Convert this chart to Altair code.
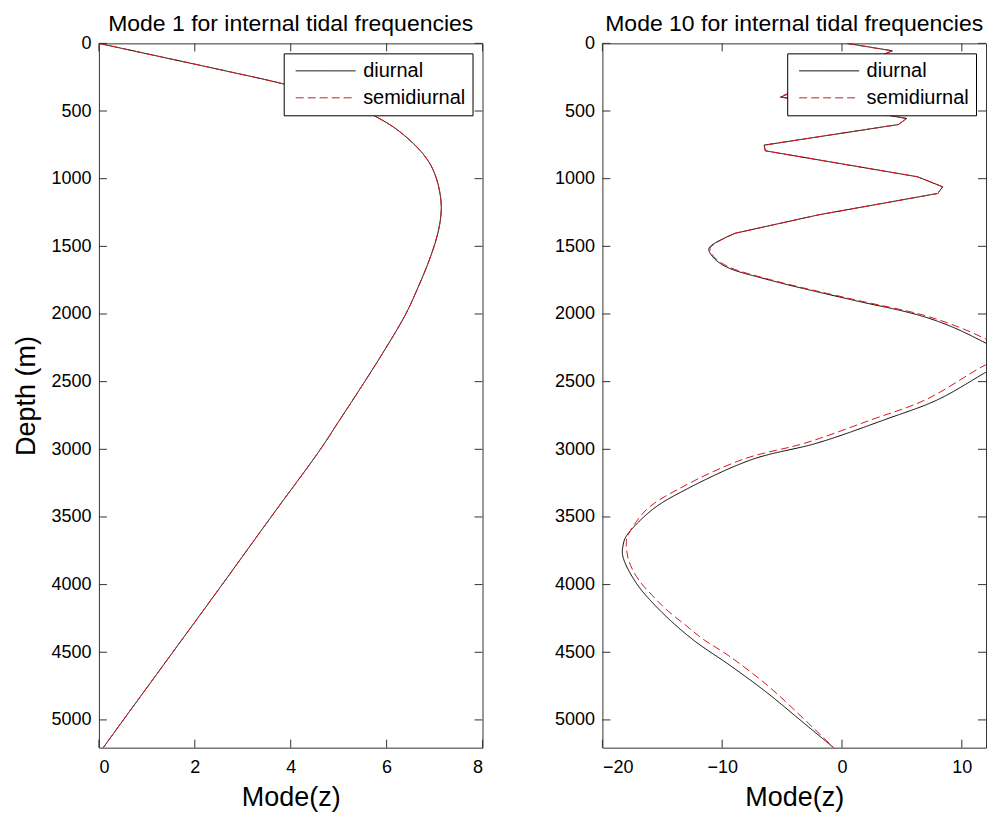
import altair as alt
import pandas as pd

# ---------------- data ----------------
series = ["diurnal", "semidiurnal"]

# Mode 1 (both frequencies practically identical)
depth_m1 = [0, 100, 200, 300, 400, 460, 530, 620, 715, 800, 887, 980, 1084, 1207,
            1330, 1453, 1620, 1800, 2000, 2300, 2600, 2800, 3000, 3500, 4000,
            4500, 5000, 5205]
mode1_diurnal = [0.0, 1.3, 2.6, 3.85, 4.85, 5.35, 5.72, 6.15, 6.48, 6.72, 6.9, 7.02,
                 7.10, 7.14, 7.11, 7.03, 6.87, 6.66, 6.40, 5.90, 5.36, 4.99, 4.62,
                 3.59, 2.57, 1.54, 0.51, 0.09]
mode1_semidiurnal = [0.0, 1.3, 2.6, 3.85, 4.85, 5.35, 5.72, 6.15, 6.48, 6.72, 6.9, 7.02,
                     7.10, 7.14, 7.11, 7.03, 6.87, 6.66, 6.40, 5.90, 5.36, 4.99, 4.62,
                     3.59, 2.57, 1.54, 0.51, 0.09]

# Mode 10
depth_m10_diurnal = [0, 55, 396, 555, 600, 752, 794, 986, 1060, 1109, 1268, 1403,
                     1514, 1576, 1650, 1748, 1895, 2006, 2092, 2215, 2320, 2431,
                     2633, 2780, 2952, 3075, 3296, 3444, 3641, 3700, 3788, 3985,
                     4181, 4403, 4600, 4796, 5000, 5205]
mode10_diurnal = [0.4, 4.2, -5.1, 5.4, 4.7, -6.5, -6.4, 6.3, 8.4, 8.0, -2.0, -8.9,
                  -11.1, -10.8, -9.7, -6.1, 0.8, 6.3, 9.1, 12.0, 14.2, 12.0,
                  8.0, 3.6, -2.0, -7.5, -13.0, -15.8, -18.0, -18.25, -18.3, -17.2,
                  -15.3, -12.5, -9.3, -6.3, -3.5, -0.7]
depth_m10_semidiurnal = [0, 55, 396, 555, 600, 752, 794, 986, 1060, 1109, 1268, 1403,
                         1514, 1576, 1650, 1748, 1895, 2006, 2092, 2185, 2290, 2375,
                         2633, 2780, 2952, 3075, 3296, 3444, 3641, 3690, 3788, 3886,
                         3985, 4083, 4181, 4304, 4403, 4526, 4747, 5042, 5205]
mode10_semidiurnal = [0.4, 4.2, -5.2, 5.4, 4.7, -6.5, -6.4, 6.3, 8.4, 8.0, -2.0, -8.9,
                      -11.0, -10.7, -9.5, -5.9, 1.1, 6.7, 9.6, 12.0, 14.2, 12.0,
                      7.0, 2.5, -3.0, -8.3, -13.7, -16.3, -17.9, -18.0, -17.9, -17.5,
                      -16.8, -15.8, -14.7, -13.0, -11.6, -9.45, -6.2, -2.6, -0.7]
# depth below which the mode-10 profile is smooth (above it: sharp zig-zags)
mode10_smooth_from = 1403

depth_ticks = [0, 500, 1000, 1500, 2000, 2500, 3000, 3500, 4000, 4500, 5000]
x_ticks_left = [0, 2, 4, 6, 8]
x_ticks_right = [-20, -10, 0, 10]
depth_domain = [0, 5205]
x_domain_left = [0, 8]
x_domain_right = [-20, 12.02]

titles = ["Mode 1 for internal tidal frequencies", "Mode 10 for internal tidal frequencies"]

# ---------------- styling ----------------
W, H = 384, 705
FONT = "Liberation Sans"
TICK = 8
FRAME = "#333333"


def make_df(d1, v1, d2, v2):
    return pd.DataFrame({
        "depth": list(d1) + list(d2),
        "value": list(v1) + list(v2),
        "series": [series[0]] * len(d1) + [series[1]] * len(d2),
    })


def panel(parts, xdomain, xticks, title, show_ytitle):
    legend = alt.Legend(title=None, orient="top-right", offset=10,
                        fillColor="white", strokeColor="black", padding=7,
                        labelFont=FONT, labelFontSize=20, labelColor="black",
                        symbolType="M-3,0L3,0", symbolSize=400, symbolStrokeWidth=1,
                        symbolOffset=24.5, labelOffset=27, rowPadding=6)
    x_enc = alt.X("value:Q",
                  scale=alt.Scale(domain=xdomain, nice=False, zero=False),
                  axis=alt.Axis(values=xticks, title="Mode(z)", labelPadding=11,
                                titlePadding=8, format="d"))
    if show_ytitle:
        y_axis = alt.Axis(values=depth_ticks, labelPadding=8, titlePadding=10,
                          title="Depth (m)", format="d")
    else:
        y_axis = alt.Axis(values=depth_ticks, labelPadding=8, title=None, format="d")
    y_enc = alt.Y("depth:Q",
                  scale=alt.Scale(domain=depth_domain, reverse=True, nice=False, zero=False),
                  axis=y_axis)
    color = alt.Color("series:N", scale=alt.Scale(domain=series, range=["black", "#e0141e"]),
                      legend=legend)
    dash = alt.StrokeDash("series:N",
                          scale=alt.Scale(domain=series, range=[[1, 0], [8, 4]]),
                          legend=legend)
    line_layers = []
    for df, interp in parts:
        line_layers.append(
            alt.Chart(df).mark_line(strokeWidth=1, clip=True, interpolate=interp).encode(
                x=x_enc, y=y_enc, color=color, strokeDash=dash,
                order=alt.Order("depth:Q"))
        )
    ydf = pd.DataFrame({"depth": depth_ticks})
    xdf = pd.DataFrame({"value": xticks})
    left_t = alt.Chart(ydf).mark_rule(color=FRAME, strokeWidth=1).encode(
        y="depth:Q", x=alt.value(0), x2=alt.value(TICK))
    right_t = alt.Chart(ydf).mark_rule(color=FRAME, strokeWidth=1).encode(
        y="depth:Q", x=alt.value(W - TICK), x2=alt.value(W))
    bot_t = alt.Chart(xdf).mark_rule(color=FRAME, strokeWidth=1).encode(
        x="value:Q", y=alt.value(H - TICK), y2=alt.value(H))
    top_t = alt.Chart(xdf).mark_rule(color=FRAME, strokeWidth=1).encode(
        x="value:Q", y=alt.value(0), y2=alt.value(TICK))
    return alt.layer(left_t, right_t, bot_t, top_t, *line_layers).properties(
        width=W, height=H,
        title=alt.TitleParams(title, fontSize=23, font=FONT, fontWeight="normal",
                              color="black", anchor="middle", offset=-2))


df1 = make_df(depth_m1, mode1_diurnal, depth_m1, mode1_semidiurnal)
df10 = make_df(depth_m10_diurnal, mode10_diurnal, depth_m10_semidiurnal, mode10_semidiurnal)
df10_top = df10[df10["depth"] <= mode10_smooth_from]
df10_bot = df10[df10["depth"] >= mode10_smooth_from]

left = panel([(df1, "catmull-rom")], x_domain_left, x_ticks_left, titles[0], True)
right = panel([(df10_top, "linear"), (df10_bot, "catmull-rom")],
              x_domain_right, x_ticks_right, titles[1], False)

chart = alt.hconcat(left, right, spacing=70).resolve_legend(
    color="independent", strokeDash="independent"
).resolve_scale(x="independent", color="independent", strokeDash="independent").properties(
    padding={"left": 4, "top": 4, "right": 0, "bottom": 0},
    background="white",
).configure_view(
    stroke=FRAME, strokeWidth=1
).configure_axis(
    domain=False, ticks=False, tickSize=0, grid=False,
    labelFont=FONT, labelFontSize=18, labelColor="black",
    titleFont=FONT, titleFontSize=27, titleFontWeight="normal", titleColor="black",
)

chart.save("out.html", embed_options={"renderer": "svg", "actions": False})
